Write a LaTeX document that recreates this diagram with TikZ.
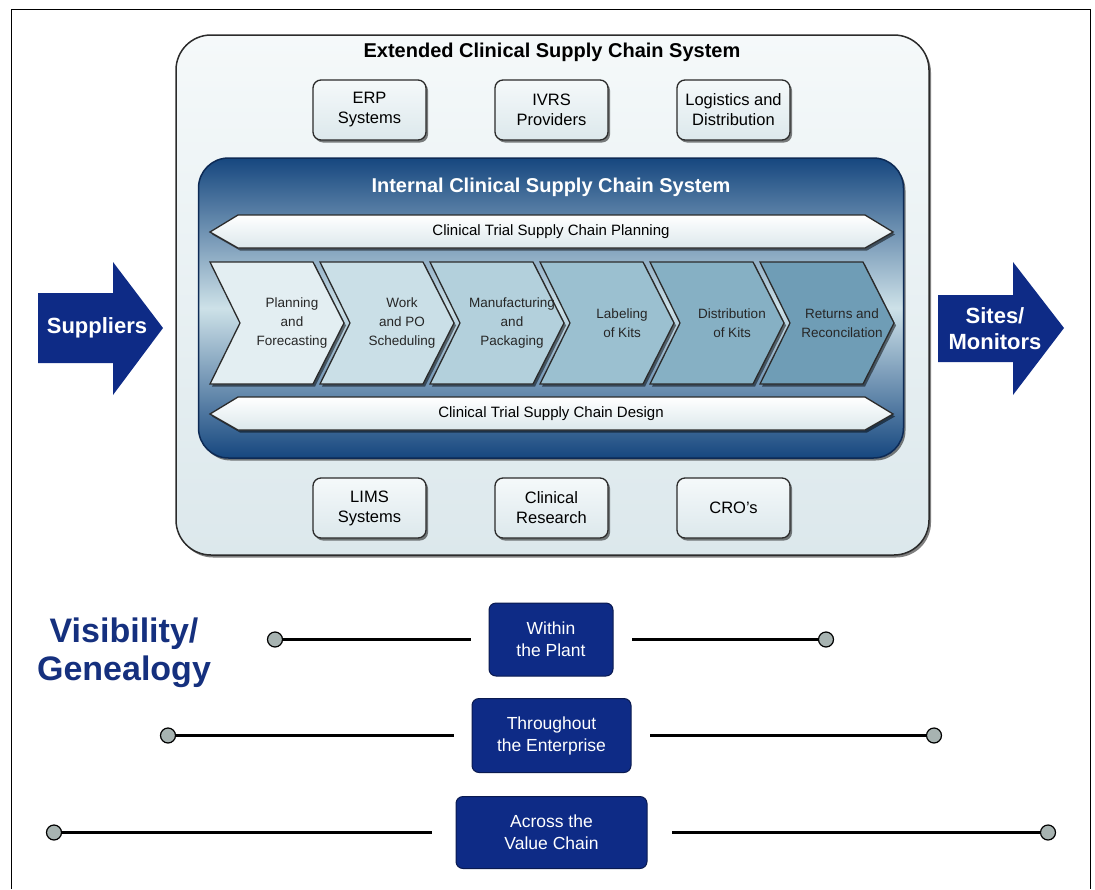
\documentclass[tikz,border=0pt]{standalone}
\usepackage{fontspec}
\setmainfont{Liberation Sans}
\usetikzlibrary{shadows}
\definecolor{navy}{HTML}{0E2B86}
\definecolor{navyedge}{HTML}{0A1A50}
\definecolor{textnavy}{HTML}{15307E}
\definecolor{pale}{HTML}{F5F9FA}
\definecolor{paleblue}{HTML}{DCE8EC}
\definecolor{deepblue}{HTML}{16477F}
\definecolor{deepedge}{HTML}{0D2A55}
\definecolor{midblue}{HTML}{CDE1E8}
\definecolor{dotgray}{HTML}{A7B3B1}
\definecolor{linegray}{HTML}{2B2B2B}
\definecolor{chevA}{HTML}{E3EEF2}
\definecolor{chevB}{HTML}{CADFE7}
\definecolor{chevC}{HTML}{B3D0DC}
\definecolor{chevD}{HTML}{9BC0D0}
\definecolor{chevE}{HTML}{86B0C4}
\definecolor{chevF}{HTML}{6F9DB6}
\newcommand{\fsz}[2]{\fontsize{#1}{#2}\selectfont}

\begin{document}
\begin{tikzpicture}[x=1pt, y=-1pt,
  dropit/.style={drop shadow={shadow xshift=2pt, shadow yshift=-2.5pt, opacity=.5, fill=black}},
  sysbox/.style={draw=linegray, line width=1.3pt, rounded corners=8pt, top color=pale, bottom color=paleblue,
    minimum width=113pt, minimum height=60pt, align=center, font=\fsz{16.5}{20}, dropit},
  banner/.style={draw=linegray, line width=1.3pt, top color=white, bottom color=paleblue, dropit},
  chev/.style={draw=linegray, line width=1.3pt, dropit},
  chevtext/.style={align=center, font=\fsz{13.5}{19}, text=black!85},
  navybox/.style={draw=navyedge, line width=1pt, fill=navy, rounded corners=7pt, align=center,
    text=white, font=\fsz{17.5}{22}},
  dot/.style={circle, draw=black, line width=1.2pt, fill=dotgray, minimum size=15pt, inner sep=0pt},
  vline/.style={line width=3pt, shorten >=#1}]
\useasboundingbox (0,0) rectangle (1095,889);
\draw[line width=1pt] (11,889) -- (11,9) -- (1090,9) -- (1090,889);

\node[draw=linegray, line width=1.5pt, rounded corners=35pt, top color=pale, bottom color=paleblue,
  minimum width=753pt, minimum height=520pt, dropit] (ext) at (552.5,295) {};
\node[font=\fsz{20}{24}\bfseries] (exttitle) at (552,52) {Extended Clinical Supply Chain System};

\foreach \n/\x/\txt in {erp/369.5/{ERP\\Systems}, ivrs/551.5/{IVRS\\Providers}, logi/733.5/{Logistics and\\Distribution}}
  \node[sysbox] (\n) at (\x,110) {\txt};
\foreach \n/\x/\txt in {lims/369.5/{LIMS\\Systems}, cres/551.5/{Clinical\\Research}, cro/733.5/{CRO’s}}
  \node[sysbox] (\n) at (\x,508) {\txt};

\node[draw=deepedge, line width=1.5pt, rounded corners=30pt, top color=deepblue, bottom color=deepblue,
  middle color=midblue, minimum width=705pt, minimum height=300pt, dropit] (int) at (551,308) {};
\node[font=\fsz{20}{24}\bfseries, text=white] (inttitle) at (551,187) {Internal Clinical Supply Chain System};

\foreach \n/\y/\txt in {plan/232/Clinical Trial Supply Chain Planning, design/414/Clinical Trial Supply Chain Design}
{
  \draw[banner] (210,\y) -- ++(28,-17) -- (865,\y-17) -- (893,\y) -- (865,\y+16) -- (238,\y+16) -- cycle;
  \node[font=\fsz{15}{18}] (\n) at (551,\y) {\txt};
}

\foreach \i/\col/\txt in {0/chevA/{Planning\\and\\Forecasting}, 1/chevB/{Work\\and PO\\Scheduling},
  2/chevC/{Manufacturing\\and\\Packaging}, 3/chevD/{Labeling\\of Kits}, 4/chevE/{Distribution\\of Kits},
  5/chevF/{Returns and\\Reconcilation}}
{
  \draw[chev, fill=\col] (210+110*\i,262) -- ++(103,0) -- ++(31,61) -- ++(-31,61) -- ++(-103,0) -- ++(30,-61) -- cycle;
  \node[chevtext] (ph\i) at (292+110*\i,323) {\txt};
}

\fill[navy] (38,293) -- (113,293) -- (113,262) -- (163,328) -- (113,395) -- (113,363) -- (38,363) -- cycle;
\node[font=\fsz{22}{26}\bfseries, text=white] (sup) at (97,328) {Suppliers};
\fill[navy] (938,295) -- (1013,295) -- (1013,262) -- (1064,328) -- (1013,395) -- (1013,362) -- (938,362) -- cycle;
\node[font=\fsz{22}{26}\bfseries, text=white, align=center] (sites) at (995,329) {Sites/\\Monitors};

\node[font=\fsz{34}{38}\bfseries, text=textnavy, align=center] (vis) at (124,653) {Visibility/\\Genealogy};

\node[navybox, minimum width=124pt, minimum height=73pt] (plant) at (551,639.5) {Within\\the Plant};
\node[navybox, minimum width=159pt, minimum height=74pt] (ent) at (551.5,735.5) {Throughout\\the Enterprise};
\node[navybox, minimum width=191pt, minimum height=72pt] (chain) at (551.5,832.5) {Across the\\Value Chain};

\foreach \n/\x/\y in {pl/275/639.5, pr/826/639.5, el/168/735.5, er/934/735.5, cl/54/832.5, cr/1048/832.5}
  \node[dot] (\n) at (\x,\y) {};
\draw[vline=18pt] (pl) -- (plant);
\draw[vline=18pt] (pr) -- (plant);
\draw[vline=18pt] (el) -- (ent);
\draw[vline=18pt] (er) -- (ent);
\draw[vline=24pt] (cl) -- (chain);
\draw[vline=24pt] (cr) -- (chain);
\end{tikzpicture}
\end{document}
